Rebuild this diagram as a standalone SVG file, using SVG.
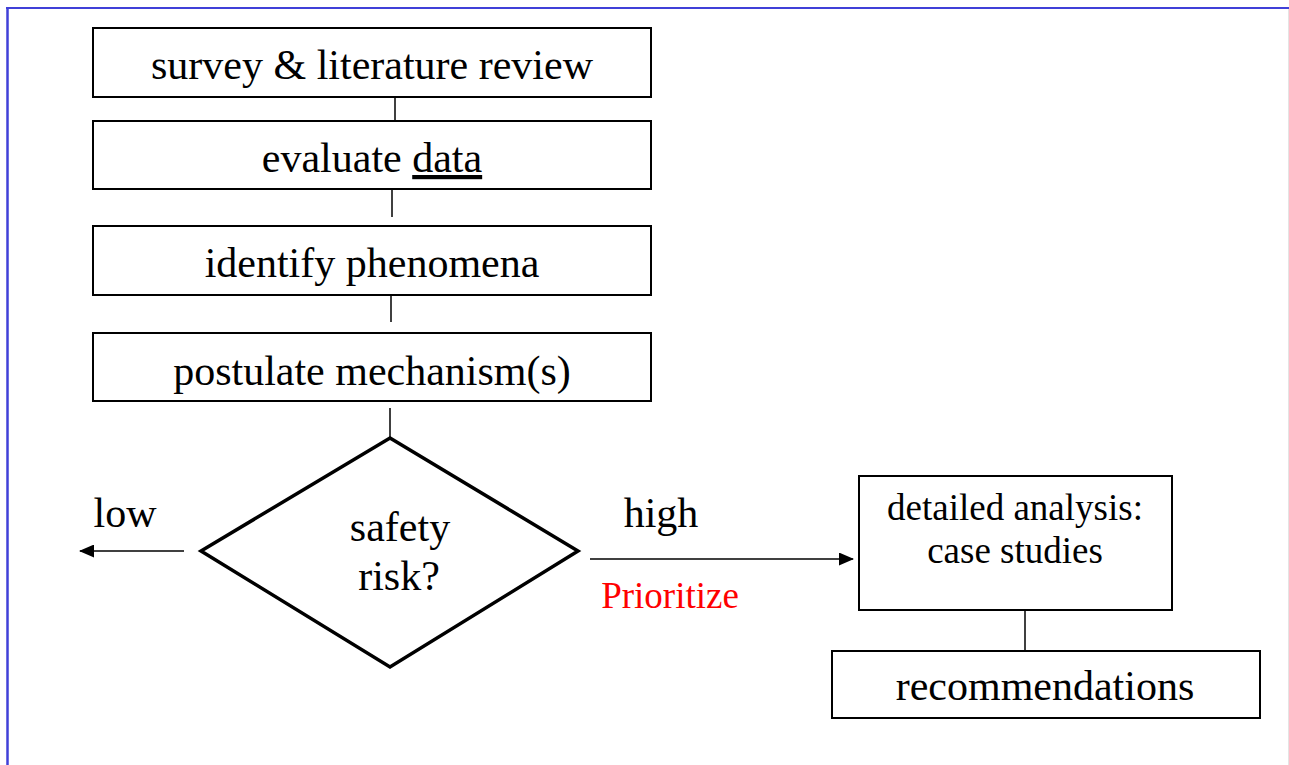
<svg xmlns="http://www.w3.org/2000/svg" width="1289" height="765" viewBox="0 0 1289 765">
<style>
.box{fill:#fff;stroke:#000;stroke-width:2}
.t{font-family:"Liberation Serif","Times New Roman",serif;font-size:42px;fill:#000;text-anchor:middle}
.s{font-size:37px}
.c{stroke:#000;stroke-width:1.5;fill:none}
</style>
<defs>
<marker id="ah" markerWidth="15" markerHeight="13" refX="14" refY="6.5" orient="auto" markerUnits="userSpaceOnUse">
<path d="M0,0 L15,6.5 L0,13 Z" fill="#000"/>
</marker>
</defs>
<rect width="1289" height="765" fill="#fff"/>
<g id="frame">
<line x1="6" y1="8" x2="1289" y2="8" stroke="#4040d8" stroke-width="2"/>
<line x1="7.5" y1="8" x2="7.5" y2="765" stroke="#4040d8" stroke-width="2.5"/>
<line x1="1288.5" y1="9" x2="1288.5" y2="765" stroke="#e4e4e4" stroke-width="1"/>
</g>
<g id="connectors">
<line class="c" x1="395" y1="97" x2="395" y2="124"/>
<line class="c" x1="392" y1="189" x2="392" y2="217"/>
<line class="c" x1="391" y1="293" x2="391" y2="322"/>
<line class="c" x1="390" y1="408" x2="390" y2="439"/>
<line class="c" x1="184" y1="551" x2="80" y2="551" marker-end="url(#ah)" stroke-width="2.5"/>
<line class="c" x1="590" y1="559" x2="853" y2="559" marker-end="url(#ah)" stroke-width="2.5"/>
<line class="c" x1="1025" y1="610" x2="1025" y2="652"/>
</g>
<g id="n1">
<rect class="box" x="93" y="28" width="558" height="69"/>
<text class="t" x="372" y="79">survey &amp; literature review</text>
</g>
<g id="n2">
<rect class="box" x="93" y="121" width="558" height="68"/>
<text class="t" x="372" y="172">evaluate <tspan text-decoration="underline">data</tspan></text>
</g>
<g id="n3">
<rect class="box" x="93" y="226" width="558" height="69"/>
<text class="t" x="372" y="277">identify phenomena</text>
</g>
<g id="n4">
<rect class="box" x="93" y="333" width="558" height="68"/>
<text class="t" x="372" y="385">postulate mechanism(s)</text>
</g>
<g id="decision">
<polygon points="390,438 578,551 390,667 201,551" fill="#fff" stroke="#000" stroke-width="3.5"/>
<text class="t" x="400" y="541">safety</text>
<text class="t" x="399" y="590">risk?</text>
</g>
<g id="labels">
<text class="t" x="125" y="527">low</text>
<text class="t" x="661" y="527">high</text>
<text class="t s" x="670" y="608" style="fill:#ff0000">Prioritize</text>
</g>
<g id="n5">
<rect class="box" x="859" y="476" width="313" height="134"/>
<text class="t s" x="1015" y="520">detailed analysis:</text>
<text class="t s" x="1015" y="563">case studies</text>
</g>
<g id="n6">
<rect class="box" x="832" y="651" width="428" height="67"/>
<text class="t" x="1045" y="700">recommendations</text>
</g>
</svg>
